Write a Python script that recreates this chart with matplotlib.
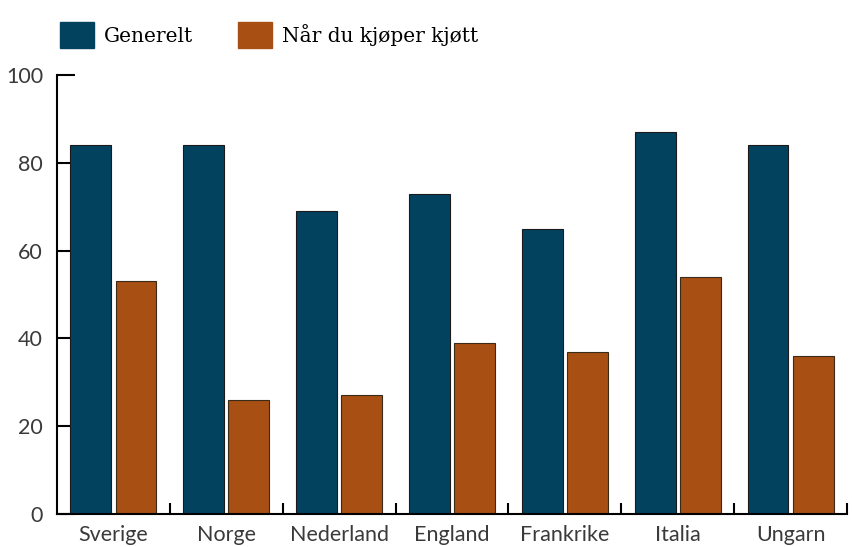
import numpy as np
import matplotlib.pyplot as plt
from matplotlib.patches import Patch

# data
land = ['Sverige', 'Norge', 'Nederland', 'England', 'Frankrike', 'Italia', 'Ungarn']
generelt = [84, 84, 69, 73, 65, 87, 84]
kjott = [53, 26, 27, 39, 37, 54, 36]

blaa = '#03425F'
oransje = '#A84F13'

fig = plt.figure(figsize=(8.52, 5.47), dpi=100)
ax = fig.add_axes([57/852, 1 - 514/547, 790/852, 439/547])

x = np.arange(len(land))
b = 0.363
ax.bar(x - 0.2, generelt, b, color=blaa, edgecolor='#1a1a1a', linewidth=0.8)
ax.bar(x + 0.2, kjott, b, color=oransje, edgecolor='#3a2a1a', linewidth=0.8)

ax.set_xlim(-0.5, 6.5)
ax.set_ylim(0, 100)
ax.set_axisbelow(True)

for s in ['top', 'right']:
    ax.spines[s].set_visible(False)
for s in ['left', 'bottom']:
    ax.spines[s].set_linewidth(1.5)

# y akse
ax.set_yticks([0, 20, 40, 60, 80, 100])
ax.tick_params(axis='y', direction='in', length=13, width=1.5, pad=10,
               labelsize=15.5, labelcolor='#3a3a3a')

# x akse: grenser som ticks, navn i midten
ax.set_xticks(np.arange(0.5, 7, 1))
ax.set_xticklabels([])
ax.set_xticks(x, minor=True)
ax.set_xticklabels(land, minor=True)
ax.tick_params(axis='x', which='major', direction='in', length=8, width=1.5)
ax.tick_params(axis='x', which='minor', length=0, pad=8,
               labelsize=15.5, labelcolor='#3a3a3a')

for t in ax.get_xticklabels(minor=True) + ax.get_yticklabels():
    t.set_family('Lato')

handles = [Patch(color=blaa, label='Generelt'),
           Patch(color=oransje, label='Når du kjøper kjøtt')]
fig.legend(handles=handles, loc='upper left', bbox_to_anchor=(60/852, 1 - 22/547),
           ncol=2, frameon=False, borderpad=0, borderaxespad=0,
           handlelength=1.7, handleheight=1.6,
           handletextpad=0.5, columnspacing=2.2,
           prop={'family': 'DejaVu Serif', 'size': 14.5})

fig.savefig('out.png', dpi=100)
